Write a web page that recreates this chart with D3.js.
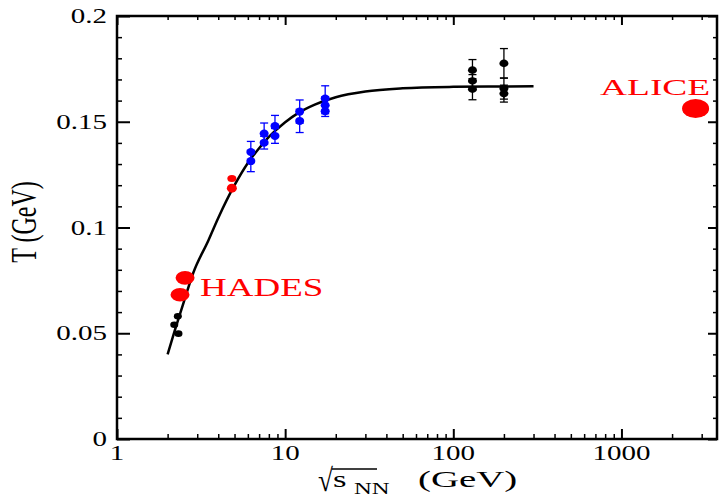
<!DOCTYPE html>
<html lang="en">
<head>
<meta charset="UTF-8" />
<title>Freeze-out temperature</title>
<script src="https://d3js.org/d3.v7.min.js"></script>
<style>
  body { margin: 0; background: #fff; }
  svg text { font-family: "Liberation Serif", "Times New Roman", serif; }
</style>
</head>
<body>
<div id="graph"></div>
<script>
// values
const xMajorTicks = [1, 10, 100, 1000];
const xTickLabels = ["1", "10", "100", "1000"];
const yMajorTicks = [0, 0.05, 0.1, 0.15, 0.2];
const yTickLabels = ["0", "0.05", "0.1", "0.15", "0.2"];

// fitted curve (estimated along the drawn line)
const fitSqrtS = [2, 2.2, 2.5, 2.84, 3.5, 4, 5, 6, 7, 8, 10, 12, 15, 20, 30, 50, 100, 200, 300];
const fitT = [0.040, 0.051, 0.065, 0.0785, 0.094, 0.1045, 0.120, 0.1305, 0.1375, 0.1428,
              0.1498, 0.1542, 0.1581, 0.1616, 0.1643, 0.1658, 0.1665, 0.1667, 0.1668];

// low energy black points
const lowSqrtS = [2.30, 2.19, 2.32];
const lowT = [0.058, 0.054, 0.0498];

// HADES
const hadesSqrtS = [2.54, 2.37];
const hadesT = [0.0762, 0.0682];

// red points near 5 GeV
const redSqrtS = [4.82, 4.82];
const redT = [0.1232, 0.1186];

// blue SPS points
const blueSqrtS = [6.25, 6.25, 7.5, 7.5, 8.7, 8.7, 12.2, 12.2, 17.3, 17.3, 17.3];
const blueT = [0.1357, 0.1314, 0.1444, 0.1401, 0.1480, 0.1433, 0.1548, 0.1504, 0.1610, 0.1578, 0.1550];
const blueErr = [0.005, 0.005, 0.005, 0.003, 0.005, 0.0035, 0.0055, 0.0055, 0.006, 0.004, 0.0025];

// black RHIC points
const rhicSqrtS = [130, 130, 130, 200, 200, 200];
const rhicT = [0.1744, 0.1693, 0.1654, 0.1776, 0.1657, 0.1633];
const rhicErr = [0.005, 0.003, 0.005, 0.007, 0.005, 0.004];

// ALICE
const aliceSqrtS = [2760];
const aliceT = [0.1563];

var width = 721, height = 498;
var margin = { top: 16, right: 4, bottom: 59, left: 117 };

const svg = d3.select("#graph").append("svg")
  .attr("width", width)
  .attr("height", height);

const x = d3.scaleLog().domain([1, 3700]).range([margin.left, width - margin.right]);
const y = d3.scaleLinear().domain([0, 0.2]).range([height - margin.bottom, margin.top]);

const xMinor = x.ticks().filter((v) => xMajorTicks.indexOf(v) < 0);
const yMinor = y.ticks(20).filter((v) => yMajorTicks.every((m) => Math.abs(m - v) > 1e-9));

// tick marks, all pointing inward
function ticks(axisFn, scale, values, size, pos, sw) {
  const g = svg.append("g")
    .attr("transform", pos)
    .call(axisFn(scale).tickValues(values).tickSize(-size).tickFormat(""));
  g.select(".domain").remove();
  g.selectAll("line").attr("stroke", "#000").attr("stroke-width", sw);
}
const bottom = height - margin.bottom, right = width - margin.right;
ticks(d3.axisBottom, x, xMajorTicks, 10, `translate(0,${bottom})`, 2);
ticks(d3.axisBottom, x, xMinor, 5, `translate(0,${bottom})`, 1.5);
ticks(d3.axisTop, x, xMajorTicks, 9, `translate(0,${margin.top})`, 2);
ticks(d3.axisTop, x, xMinor, 4, `translate(0,${margin.top})`, 1.5);
ticks(d3.axisLeft, y, yMajorTicks, 13, `translate(${margin.left},0)`, 2);
ticks(d3.axisLeft, y, yMinor, 5, `translate(${margin.left},0)`, 1.5);
ticks(d3.axisRight, y, yMajorTicks, 9, `translate(${right},0)`, 2);
ticks(d3.axisRight, y, yMinor, 4, `translate(${right},0)`, 1.5);

// frame
svg.append("rect")
  .attr("x", margin.left).attr("y", margin.top)
  .attr("width", right - margin.left).attr("height", bottom - margin.top)
  .attr("fill", "none").attr("stroke", "#000").attr("stroke-width", 2.5);

// stretched text helper (the original is horizontally stretched)
function label(txt, px, py, size, sx, anchor, color) {
  return svg.append("text")
    .attr("transform", `translate(${px},${py}) scale(${sx},1)`)
    .attr("text-anchor", anchor || "start")
    .attr("font-size", size)
    .attr("fill", color || "#000")
    .text(txt);
}

xMajorTicks.forEach((v, i) => label(xTickLabels[i], x(v), 460, 20, 1.45, "middle"));
yMajorTicks.forEach((v, i) => label(yTickLabels[i], 107, y(v) + 7, 20, 1.45, "end"));

// axis titles
svg.append("text")
  .attr("transform", "translate(36,222) scale(1.45,1) rotate(-90)")
  .attr("text-anchor", "middle")
  .attr("font-size", 24)
  .text("T (GeV)");

label("\u221A", 318, 491, 32, 0.85);
svg.append("line")
  .attr("x1", 332).attr("x2", 377).attr("y1", 469).attr("y2", 469)
  .attr("stroke", "#000").attr("stroke-width", 1.3);
label("s", 333, 487, 24, 1.45);
label("NN", 354, 494, 17, 1.45);
label("(GeV)", 418, 487, 24, 1.62);

// fit curve
const line = d3.line()
  .x((d) => x(d[0]))
  .y((d) => y(d[1]))
  .curve(d3.curveMonotoneX);
svg.append("path")
  .datum(d3.zip(fitSqrtS, fitT))
  .attr("d", line)
  .attr("fill", "none")
  .attr("stroke", "#000")
  .attr("stroke-width", 2.5);

function errorBars(xs, ts, errs, color) {
  const g = svg.append("g").attr("stroke", color).attr("stroke-width", 1.3);
  xs.forEach((v, i) => {
    const cx = x(v), y0 = y(ts[i] - errs[i]), y1 = y(ts[i] + errs[i]);
    g.append("line").attr("x1", cx).attr("x2", cx).attr("y1", y0).attr("y2", y1);
    g.append("line").attr("x1", cx - 4).attr("x2", cx + 4).attr("y1", y0).attr("y2", y0);
    g.append("line").attr("x1", cx - 4).attr("x2", cx + 4).attr("y1", y1).attr("y2", y1);
  });
}

function points(xs, ts, rx, ry, color) {
  svg.append("g").selectAll("ellipse")
    .data(d3.zip(xs, ts))
    .join("ellipse")
    .attr("cx", (d) => x(d[0]))
    .attr("cy", (d) => y(d[1]))
    .attr("rx", rx)
    .attr("ry", ry)
    .attr("fill", color);
}

errorBars(blueSqrtS, blueT, blueErr, "#0000ff");
errorBars(rhicSqrtS, rhicT, rhicErr, "#000");

points(lowSqrtS, lowT, 4, 3.3, "#000");
points(hadesSqrtS, hadesT, 9.5, 6.8, "#ff0000");
points(redSqrtS.slice(0, 1), redT.slice(0, 1), 4.5, 3.5, "#ff0000");
points(redSqrtS.slice(1), redT.slice(1), 5, 4.5, "#ff0000");
points(blueSqrtS, blueT, 4.5, 4, "#0000ff");
points(rhicSqrtS, rhicT, 4.5, 3.8, "#000");
points(aliceSqrtS, aliceT, 13.5, 9.5, "#ff0000");

label("HADES", 200, 296, 25, 1.48, "start", "#ff0000");
label("ALICE", 600, 95, 24, 1.56, "start", "#ff0000");
</script>
</body>
</html>
